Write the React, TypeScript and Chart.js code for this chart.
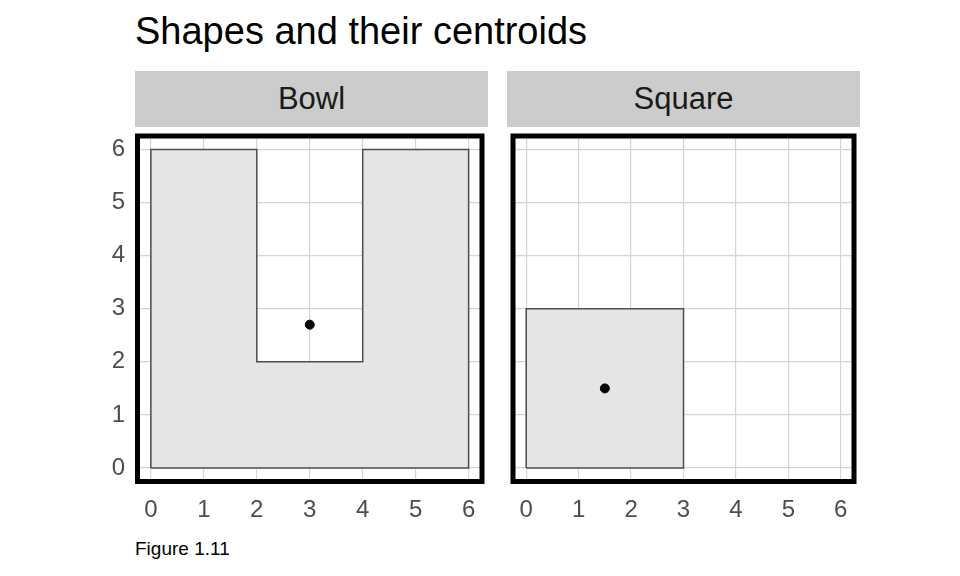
import React, { useEffect, useRef } from 'react';
import { Chart, registerables } from 'chart.js';

Chart.register(...registerables);

const bowlX = [0, 6, 6, 4, 4, 2, 2, 0, 0];
const bowlY = [0, 0, 6, 6, 2, 2, 6, 6, 0];
const bowlCentroid = [3, 2.7];
const squareX = [0, 3, 3, 0, 0];
const squareY = [0, 0, 3, 3, 0];
const squareCentroid = [1.5, 1.5];
const tickValues = [0, 1, 2, 3, 4, 5, 6];

const FONT = '"Liberation Sans", Arial, sans-serif';

const borderPlugin = {
  id: 'panelBorder',
  afterDraw(chart: any) {
    const { ctx, chartArea: a } = chart;
    ctx.save();
    ctx.strokeStyle = '#000';
    ctx.lineWidth = 5;
    ctx.strokeRect(a.left + 2.5, a.top + 2.5, a.right - a.left - 5, a.bottom - a.top - 5);
    ctx.restore();
  },
};

function noPad(s: any) {
  s.paddingLeft = 0;
  s.paddingRight = 0;
  s.paddingTop = 0;
  s.paddingBottom = 0;
}

function Panel({ xs, ys, centroid, showY, style }: any) {
  const ref = useRef<HTMLCanvasElement>(null);
  useEffect(() => {
    const pts = xs.map((x: number, i: number) => ({ x, y: ys[i] }));
    const grid = {
      color: '#d4d4d4',
      lineWidth: 1.2,
      drawTicks: false,
    };
    const tickCfg = {
      stepSize: 1,
      color: '#4d4d4d',
      font: { family: FONT, size: 24 },
      autoSkip: false,
      maxRotation: 0,
    };
    const build = (s: any) => {
      s.ticks = tickValues.map((v) => ({ value: v }));
    };
    const chart = new Chart(ref.current!, {
      type: 'scatter',
      data: {
        datasets: [
          {
            data: [{ x: centroid[0], y: centroid[1] }],
            pointRadius: 4.5,
            backgroundColor: '#000',
            borderColor: '#000',
            order: 0,
          },
          {
            data: pts,
            showLine: true,
            fill: 'shape',
            backgroundColor: '#e5e5e5',
            borderColor: '#4d4d4d',
            borderWidth: 1.5,
            pointRadius: 0,
            tension: 0,
            order: 1,
          } as any,
        ],
      },
      options: {
        responsive: false,
        animation: false,
        layout: { padding: { top: 2, right: 2, left: showY ? 0 : 2 } },
        plugins: { legend: { display: false }, tooltip: { enabled: false } },
        scales: {
          x: {
            type: 'linear',
            min: -0.3,
            max: 6.3,
            afterBuildTicks: build,
            afterFit: (s: any) => { s.height = 44; noPad(s); },
            ticks: { ...tickCfg, padding: 12 },
            grid,
            border: { display: false },
          },
          y: {
            type: 'linear',
            min: -0.3,
            max: 6.3,
            afterBuildTicks: build,
            afterFit: (s: any) => { s.width = showY ? 40 : 0; noPad(s); },
            ticks: { ...tickCfg, padding: 10, display: showY },
            grid,
            border: { display: false },
          },
        },
      },
      plugins: [borderPlugin],
    });
    return () => chart.destroy();
  }, []);
  return <canvas ref={ref} width={style.width} height={style.height} style={{ position: 'absolute', ...style }} />;
}

const stripStyle: any = {
  position: 'absolute',
  top: 71,
  height: 56,
  background: '#cccccc',
  color: '#1a1a1a',
  fontSize: 31,
  fontFamily: FONT,
  display: 'flex',
  alignItems: 'center',
  justifyContent: 'center',
};

export default function App() {
  return (
    <div style={{ position: 'absolute', left: 0, top: 0, width: 960, height: 576, background: '#fff', fontFamily: FONT }}>
      <div style={{ position: 'absolute', left: 135, top: 10, fontSize: 38, color: '#000' }}>Shapes and their centroids</div>
      <div style={{ ...stripStyle, left: 135, width: 353 }}>Bowl</div>
      <div style={{ ...stripStyle, left: 507, width: 353 }}>Square</div>
      <Panel xs={bowlX} ys={bowlY} centroid={bowlCentroid} showY={true} style={{ left: 95, top: 128, width: 395, height: 400 }} />
      <Panel xs={squareX} ys={squareY} centroid={squareCentroid} showY={false} style={{ left: 505, top: 128, width: 357, height: 400 }} />
      <div style={{ position: 'absolute', left: 135, top: 538, fontSize: 19, color: '#000' }}>Figure 1.11</div>
    </div>
  );
}
